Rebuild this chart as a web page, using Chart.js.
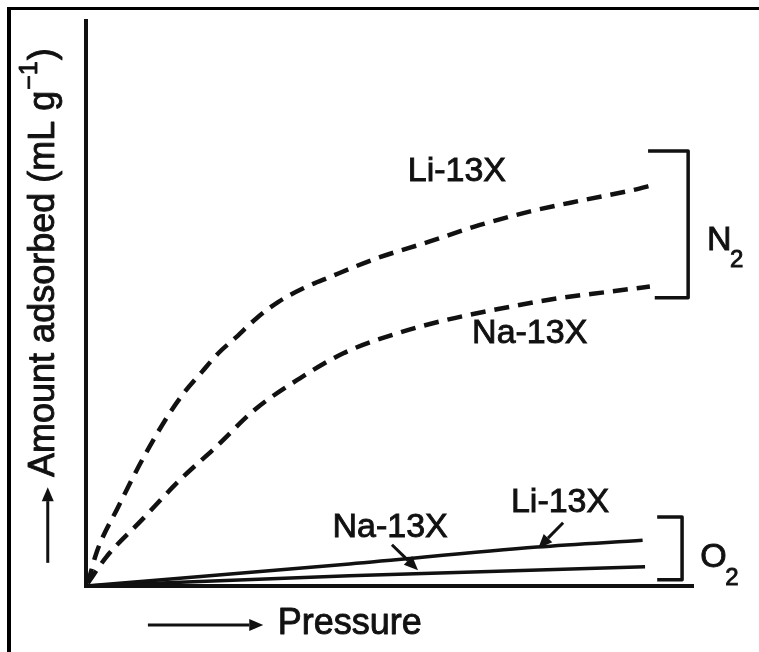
<!DOCTYPE html>
<html>
<head>
<meta charset="utf-8">
<title>N2 and O2 adsorption on Li-13X and Na-13X</title>
<script src="https://cdn.jsdelivr.net/npm/chart.js@4.4.0/dist/chart.umd.min.js"></script>
<style>
  html, body { margin: 0; padding: 0; background: #fff; }
  #wrap { position: relative; width: 759px; height: 652px; overflow: hidden; }
  #frame { position: absolute; left: 7px; top: 7px; right: -10px; bottom: -10px;
           border-top: 3px solid #000; border-left: 4px solid #000; }
  canvas { position: absolute; left: 0; top: 0; }
</style>
</head>
<body>
<div id="wrap">
  <div id="frame"></div>
  <canvas id="isotherms" width="759" height="652"></canvas>
</div>
<script>
// values (pressure and amount in arbitrary 0-100 units)
// N2 on Li-13X (upper dashed curve)
const liN2Pressure = [0.3, 1.8, 5.3, 9.4, 13.6, 16.3, 19.1, 21.8, 24.8, 28.1, 31.7, 35.8, 40.2, 47.9, 56.4, 64.9, 73.2, 81.9, 90.2, 93.5];
const liN2Amount   = [0.5, 6.1, 14.0, 22.6, 30.3, 34.4, 37.9, 41.2, 44.1, 47.4, 50.3, 52.7, 54.7, 58.0, 60.9, 63.9, 66.3, 68.3, 70.1, 71.0];
// N2 on Na-13X (lower dashed curve)
const naN2Pressure = [0.3, 3.4, 9.2, 15.5, 21.5, 27.8, 35.3, 42.4, 51.2, 59.4, 68.8, 77.6, 86.3, 92.9];
const naN2Amount   = [0.5, 5.2, 11.7, 18.8, 24.7, 31.2, 36.8, 41.2, 44.7, 47.1, 49.2, 50.9, 52.1, 53.0];
// O2 on Li-13X and Na-13X (solid lines)
const liO2Pressure = [0, 43.4, 74.3, 91.7];
const liO2Amount   = [0, 3.9, 6.9, 8.1];
const naO2Pressure = [0, 43.4, 92.1];
const naO2Amount   = [0, 1.8, 3.4];

function toPoints(xs, ys) {
    return xs.map((v, i) => ({ x: v, y: ys[i] }));
}

const ink = '#111';
const FAMILY = '"Liberation Sans", Arial, sans-serif';

// annotation layout, in data units
const curveLabels = [
    { text: 'Li-13X', x: 61.1, y: 73.3 },
    { text: 'Na-13X', x: 73.1, y: 44.6 },
    { text: 'Li-13X', x: 78.1, y: 14.7 },
    { text: 'Na-13X', x: 50.1, y: 10.4 }
];
const gasLabels = [
    { main: 'N', sub: '2', x: 102.3, y: 61.2, subX: 106.1, subY: 57.7 },
    { main: 'O', sub: '2', x: 101.2, y: 5.0, subX: 105.3, subY: 1.4 }
];
const brackets = [
    [[92.6, 77.0], [99.2, 77.0], [99.2, 51.0], [93.7, 51.0]],
    [[94.1, 12.2], [98.2, 12.2], [98.2, 1.1], [94.1, 1.1]]
];
const arrows = [
    { from: [78.6, 11.2], to: [74.5, 6.7] },
    { from: [50.4, 7.3], to: [54.7, 2.8] },
    { from: [10.2, -6.9], to: [29.2, -6.9] },
    { from: [-6.3, 4.1], to: [-6.3, 17.5] }
];

// slightly heavier text, like the scanned lettering
function inkText(ctx, text, x, y, size) {
    ctx.font = size + 'px ' + FAMILY;
    ctx.lineWidth = 0.9;
    ctx.fillText(text, x, y);
    ctx.strokeText(text, x, y);
    return ctx.measureText(text).width;
}

function drawArrow(ctx, x1, y1, x2, y2) {
    const ang = Math.atan2(y2 - y1, x2 - x1);
    const head = 14, half = 6;
    const bx = x2 - head * Math.cos(ang), by = y2 - head * Math.sin(ang);
    ctx.lineWidth = 3;
    ctx.beginPath();
    ctx.moveTo(x1, y1);
    ctx.lineTo(bx, by);
    ctx.stroke();
    ctx.beginPath();
    ctx.moveTo(x2, y2);
    ctx.lineTo(bx + half * Math.sin(ang), by - half * Math.cos(ang));
    ctx.lineTo(bx - half * Math.sin(ang), by + half * Math.cos(ang));
    ctx.closePath();
    ctx.fill();
}

const notesPlugin = {
    id: 'notes',
    afterDraw(chart) {
        const { ctx, scales: { x, y } } = chart;
        const px = v => x.getPixelForValue(v);
        const py = v => y.getPixelForValue(v);
        ctx.save();
        ctx.fillStyle = ink;
        ctx.strokeStyle = ink;
        ctx.textBaseline = 'middle';

        ctx.textAlign = 'center';
        curveLabels.forEach(l => inkText(ctx, l.text, px(l.x), py(l.y), 34));

        ctx.textAlign = 'left';
        gasLabels.forEach(g => {
            inkText(ctx, g.main, px(g.x), py(g.y), 34);
            inkText(ctx, g.sub, px(g.subX), py(g.subY), 24);
        });

        ctx.lineJoin = 'round';
        brackets.forEach(b => {
            ctx.lineWidth = 3.5;
            ctx.beginPath();
            b.forEach((p, i) => i ? ctx.lineTo(px(p[0]), py(p[1])) : ctx.moveTo(px(p[0]), py(p[1])));
            ctx.stroke();
        });

        arrows.forEach(a => drawArrow(ctx, px(a.from[0]), py(a.from[1]), px(a.to[0]), py(a.to[1])));

        // x axis caption
        inkText(ctx, 'Pressure', px(31.6), py(-6.7), 36);

        // y axis caption, rotated, with superscript
        ctx.translate(px(-6.9), py(19.3));
        ctx.rotate(-Math.PI / 2);
        let w = inkText(ctx, 'Amount adsorbed (mL g', 0, 0, 36);
        w += inkText(ctx, '\u22121', w + 1, -14, 25) + 2;
        inkText(ctx, ')', w, 0, 36);
        ctx.restore();
    }
};

const hiddenAxis = {
    type: 'linear',
    min: 0,
    max: 100,
    ticks: { display: false },
    grid: { display: true, drawOnChartArea: false, drawTicks: false, color: 'rgba(0,0,0,0)' },
    border: { display: true, color: ink, width: 4 }
};

new Chart(document.getElementById('isotherms').getContext('2d'), {
    type: 'scatter',
    data: {
        datasets: [
            { label: 'N2 Li-13X', data: toPoints(liN2Pressure, liN2Amount), borderDash: [15, 9], borderWidth: 4.5 },
            { label: 'N2 Na-13X', data: toPoints(naN2Pressure, naN2Amount), borderDash: [15, 9], borderWidth: 4.5 },
            { label: 'O2 Li-13X', data: toPoints(liO2Pressure, liO2Amount), borderWidth: 3.5 },
            { label: 'O2 Na-13X', data: toPoints(naO2Pressure, naO2Amount), borderWidth: 3.5 }
        ].map(d => Object.assign(d, {
            showLine: true, pointRadius: 0, borderColor: ink, backgroundColor: ink,
            cubicInterpolationMode: 'monotone', fill: false
        }))
    },
    options: {
        responsive: false,
        animation: false,
        devicePixelRatio: 1,
        layout: { padding: { left: 86, top: 21, right: 66, bottom: 66 } },
        plugins: { legend: { display: false }, tooltip: { enabled: false } },
        scales: { x: hiddenAxis, y: Object.assign({}, hiddenAxis) }
    },
    plugins: [notesPlugin]
});
</script>
</body>
</html>
